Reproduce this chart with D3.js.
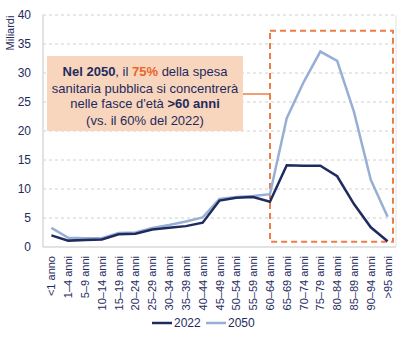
<!DOCTYPE html>
<html><head><meta charset="utf-8">
<script src="https://cdn.jsdelivr.net/npm/d3@7"></script>
<style>body{margin:0;background:#fff;} svg{display:block;font-family:Arial,"Liberation Sans",sans-serif;}</style>
</head><body>
<svg id="c" width="407" height="340"></svg>
<script>
const categories = ["<1 anno","1–4 anni","5–9 anni","10–14 anni","15–19 anni","20–24 anni","25–29 anni","30–34 anni","35–39 anni","40–44 anni","45–49 anni","50–54 anni","55–59 anni","60–64 anni","65–69 anni","70–74 anni","75–79 anni","80–84 anni","85–89 anni","90–94 anni",">95 anni"];
const v2022 = [2.0,1.1,1.2,1.3,2.2,2.3,3.0,3.3,3.6,4.2,8.0,8.5,8.6,7.8,14.1,14.0,14.0,12.2,7.4,3.4,1.0];
const v2050 = [3.3,1.6,1.5,1.5,2.4,2.5,3.3,3.8,4.4,5.1,8.3,8.6,8.8,9.1,22.2,28.4,33.7,32.1,23.3,11.6,5.2];
const yTicks = [0,5,10,15,20,25,30,35,40];
const seriesNames = ["2022","2050"];

const navy = "#1f2b5e", light = "#97afd5", orange = "#ee7d43", text = "#1f2b5e";
const svg = d3.select("#c");
const L = 43, R = 396, T = 15, B = 247;
const x = d3.scaleBand().domain(categories).range([L, R]);
const y = d3.scaleLinear().domain([0, 40]).range([B, T]);
const cx = d => x(d) + x.bandwidth()/2;

// gridlines
svg.append("g").selectAll("line").data(yTicks.filter(d=>d>0)).join("line")
  .attr("x1", L).attr("x2", R).attr("y1", d=>y(d)).attr("y2", d=>y(d))
  .attr("stroke", "#d0d0d0").attr("stroke-dasharray", "3,3").attr("stroke-width", 1);
// axes lines
svg.append("line").attr("x1", L).attr("x2", L).attr("y1", T).attr("y2", B).attr("stroke", "#d9d9d9").attr("stroke-width", 1.5);
svg.append("line").attr("x1", L).attr("x2", R).attr("y1", B).attr("y2", B).attr("stroke", "#d9d9d9").attr("stroke-width", 1.5);
svg.append("line").attr("x1", R).attr("x2", R).attr("y1", T).attr("y2", B).attr("stroke", "#e3e3e3").attr("stroke-width", 1);

// y tick labels
svg.append("g").selectAll("text").data(yTicks).join("text")
  .attr("x", 31).attr("y", d=>y(d)).attr("dy", "0.35em").attr("text-anchor", "end")
  .attr("font-size", 12).attr("fill", text).text(d=>d);
// y title
svg.append("text").attr("transform", `translate(14,${33}) rotate(-90)`).attr("text-anchor","middle")
  .attr("font-size", 11).attr("fill", text).text("Miliardi");

// x labels
svg.append("g").selectAll("text").data(categories).join("text")
  .attr("transform", d=>`translate(${cx(d)+4},${256}) rotate(-90)`)
  .attr("text-anchor", "end").attr("font-size", 11).attr("fill", text).text(d=>d);

// orange dashed box
const bx1 = (x(categories[13]) + x(categories[14]))/2 - 5 + 0.5;
svg.append("rect").attr("x", 270).attr("y", y(37.3)).attr("width", 393-270).attr("height", y(0.9)-y(37.3))
  .attr("fill", "none").attr("stroke", orange).attr("stroke-width", 2).attr("stroke-dasharray", "6,4");

// lines
const line = d3.line().x((d,i)=>cx(categories[i])).y(d=>y(d));
svg.append("path").datum(v2050).attr("d", line).attr("fill","none").attr("stroke", light).attr("stroke-width", 2.5);
svg.append("path").datum(v2022).attr("d", line).attr("fill","none").attr("stroke", navy).attr("stroke-width", 2.5);

// annotation connector
svg.append("line").attr("x1", 243).attr("x2", 270).attr("y1", 94).attr("y2", 94).attr("stroke", orange).attr("stroke-width", 1.5);
svg.append("line").attr("x1", 270).attr("x2", 270).attr("y1", 94).attr("y2", 100).attr("stroke", orange).attr("stroke-width", 1.5);
// annotation box
svg.append("rect").attr("x", 47).attr("y", 56).attr("width", 196).attr("height", 75).attr("fill", "#f8d5bd");
const ann = svg.append("text").attr("text-anchor","middle").attr("font-size", 13).attr("fill", text);
const l1 = ann.append("tspan").attr("x", 145).attr("y", 76);
l1.append("tspan").attr("font-weight","bold").text("Nel 2050");
l1.append("tspan").text(", il ");
l1.append("tspan").attr("font-weight","bold").attr("fill", "#e8652b").text("75%");
l1.append("tspan").text(" della spesa");
ann.append("tspan").attr("x", 145).attr("y", 93).text("sanitaria pubblica si concentrerà");
const l3 = ann.append("tspan").attr("x", 145).attr("y", 108);
l3.append("tspan").text("nelle fasce d'età ");
l3.append("tspan").attr("font-weight","bold").text(">60 anni");
ann.append("tspan").attr("x", 145).attr("y", 125).text("(vs. il 60% del 2022)");

// legend
const lg = svg.append("g").attr("font-size", 12).attr("fill", text);
[[152, navy, seriesNames[0]], [206, light, seriesNames[1]]].forEach(([lx, col, name]) => {
  lg.append("line").attr("x1", lx).attr("x2", lx+20).attr("y1", 323).attr("y2", 323).attr("stroke", col).attr("stroke-width", 2.5);
  lg.append("text").attr("x", lx+22).attr("y", 323).attr("dy","0.35em").text(name);
});
</script>
</body></html>
